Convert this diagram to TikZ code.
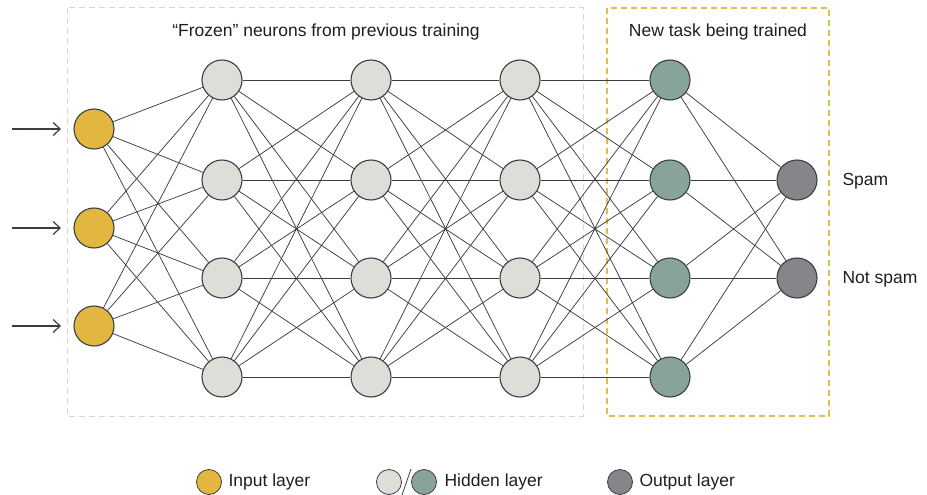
\documentclass[tikz,border=0pt]{standalone}
\usepackage{fontspec}
\setmainfont{Liberation Sans}
\usetikzlibrary{arrows.meta}
\definecolor{inyel}{HTML}{E2B63F}
\definecolor{hidgray}{HTML}{DEDDD8}
\definecolor{hidgreen}{HTML}{88A398}
\definecolor{outgray}{HTML}{86858A}
\definecolor{strokec}{HTML}{3A3F44}
\definecolor{linec}{HTML}{3A3E42}
\definecolor{frozc}{HTML}{D6D6D2}
\definecolor{boxyel}{HTML}{E6BB4C}
\tikzset{
  neuron/.style={circle, draw=strokec, line width=1.1pt, minimum size=40pt, inner sep=0pt},
  inn/.style={neuron, fill=inyel},
  hid/.style={neuron, fill=hidgray},
  grn/.style={neuron, fill=hidgreen},
  outn/.style={neuron, fill=outgray},
  conn/.style={draw=linec, line width=0.75pt},
  lbl/.style={font=\fontsize{17.5}{20}\selectfont, text=black!88},
  legdot/.style={circle, draw=strokec, line width=0.8pt, minimum size=25pt, inner sep=0pt},
}
\begin{document}
\begin{tikzpicture}[x=1pt,y=-1pt]
\useasboundingbox (0,0) rectangle (927,495);
% boxes
\draw[frozc, line width=1pt, dash pattern=on 6pt off 4pt] (67,8) rectangle (583,416);
\draw[boxyel, line width=1.3pt, dash pattern=on 6pt off 4pt] (607,8) rectangle (829,416);
\node[lbl] (t1) at (326,32) {“Frozen” neurons from previous training};
\node[lbl] (t2) at (718,32) {New task being trained};
% nodes
\foreach \i/\y in {1/129,2/228,3/326} \node[inn] (i\i) at (94,\y) {};
\foreach \i/\y in {1/80,2/180,3/278,4/377} {
  \node[hid] (a\i) at (222,\y) {};
  \node[hid] (b\i) at (371,\y) {};
  \node[hid] (c\i) at (520,\y) {};
  \node[grn] (d\i) at (670,\y) {};
}
\node[outn] (o1) at (797,180) {};
\node[outn] (o2) at (797,278) {};
% connections
\foreach \s in {1,2,3} \foreach \t in {1,2,3,4} \draw[conn] (i\s) -- (a\t);
\foreach \s in {1,2,3,4} \foreach \t in {1,2,3,4} {
  \draw[conn] (a\s) -- (b\t);
  \draw[conn] (b\s) -- (c\t);
  \draw[conn] (c\s) -- (d\t);
}
\foreach \s in {1,2,3,4} \foreach \t in {1,2} \draw[conn] (d\s) -- (o\t);
% input arrows
\foreach \i/\y in {1/129,2/228,3/326} {
  \coordinate (s\i) at (12,\y);
  \coordinate (e\i) at (61,\y);
  \draw[linec, line width=1.2pt, -{Straight Barb[length=7pt,width=13pt]}] (s\i) -- (e\i);
}
% output labels
\node[lbl, anchor=west] (l1) at (839,181) {Spam};
\node[lbl, anchor=west] (l2) at (839,279) {Not spam};
% legend
\node[legdot, fill=inyel] (g1) at (209,482) {};
\node[lbl, anchor=west] (g1t) at (225,482) {Input layer};
\node[legdot, fill=hidgray] (g2) at (389,482) {};
\node[legdot, fill=hidgreen] (g3) at (424,482) {};
\coordinate (sl1) at (411,469);
\coordinate (sl2) at (402,495);
\draw[strokec, line width=0.8pt] (sl1) -- (sl2);
\node[lbl, anchor=west] (g3t) at (441,482) {Hidden layer};
\node[legdot, fill=outgray] (g4) at (620,482) {};
\node[lbl, anchor=west] (g4t) at (636,482) {Output layer};
\end{tikzpicture}
\end{document}
